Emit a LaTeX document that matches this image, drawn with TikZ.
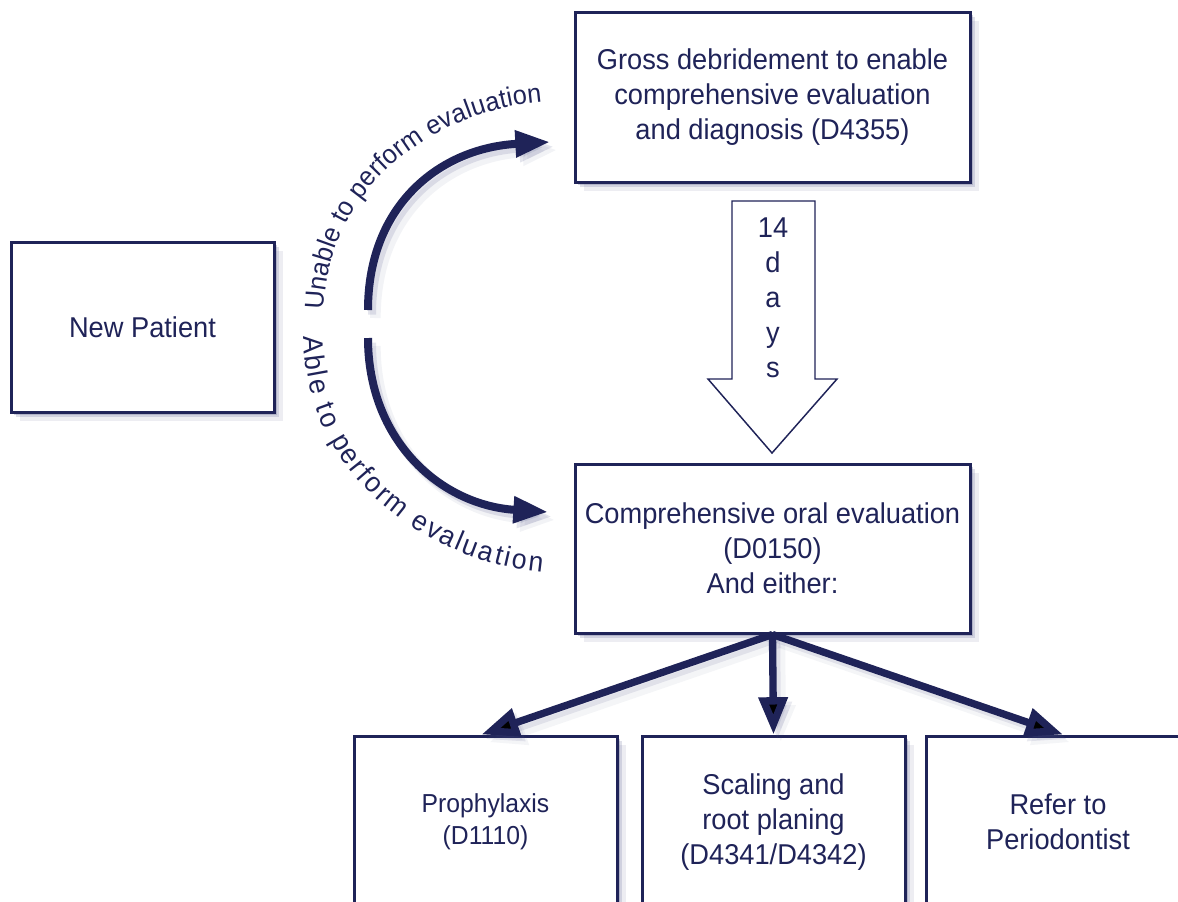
\documentclass[tikz,border=0pt]{standalone}
\usepackage{fontspec}
\setmainfont{Liberation Sans}[FakeStretch=0.95]
\usetikzlibrary{arrows.meta,decorations.text,shadows,calc}
\definecolor{navy}{RGB}{31,35,88}
\definecolor{shade}{RGB}{80,85,135}
\newcommand\mainsz{\fontsize{21.5}{26.25}\selectfont}
\newcommand\smallsz{\fontsize{19.5}{24}\selectfont}
\newcommand\lblfont{\fontsize{20}{24}\selectfont}
\newcommand\lblfontb{\fontsize{21}{24}\selectfont}
\begin{document}
\begin{tikzpicture}[x=0.75pt,y=-0.75pt,
  box/.style={draw=navy, line width=2.25pt, fill=white, inner sep=0pt, align=center,
    text=navy, font=\mainsz,
    general shadow={shadow xshift=2pt,shadow yshift=-2pt,fill=shade,opacity=0.25},
    general shadow={shadow xshift=4pt,shadow yshift=-4pt,fill=shade,opacity=0.18},
    general shadow={shadow xshift=6.5pt,shadow yshift=-6.5pt,fill=shade,opacity=0.1}},
  curvearrow/.style={draw=navy, line width=6pt, -{Triangle[length=26pt,width=19pt]}},
  forkarrow/.style={draw=navy, line width=5.5pt, -{Triangle[length=28pt,width=21pt]}},
  curveshadow/.style={curvearrow, draw=shade, opacity=0.15},
  forkshadow/.style={forkarrow, draw=shade, opacity=0.12},
  bigarrowshape/.style={draw=navy, line width=1.1pt, fill=white, line join=miter},
  lbl/.style 2 args={decorate, decoration={text along path, text align={fit to path}, text color=navy,
    text={|#1|#2}}}
]
\useasboundingbox (0,0) rectangle (1178,901);
\clip (0,0) rectangle (1178,901);
\fill[white] (0,0) rectangle (1178,901);

% boxes
\node[box, minimum width=197.25pt, minimum height=127.5pt] (np) at (142.5,327) {New Patient};
\node[box, minimum width=296.25pt, minimum height=127.5pt] (gross) at (772.5,97)
  {Gross debridement to enable\\comprehensive evaluation\\and diagnosis (D4355)};
\node[box, minimum width=296.25pt, minimum height=126.75pt] (comp) at (772.5,548.5)
  {Comprehensive oral evaluation\\(D0150)\\And either:};
\node[box, font=\smallsz, minimum width=197.25pt, minimum height=129pt] (pro) at (485.5,822)
  {Prophylaxis\\(D1110)};
\node[box, minimum width=197.25pt, minimum height=129pt] (srp) at (773.5,822)
  {Scaling and\\root planing\\(D4341/D4342)};
\node[box, minimum width=198pt, minimum height=129pt] (ref) at (1058,822)
  {Refer to\\Periodontist};

% 14 days block arrow
\draw[bigarrowshape] (732,201) -- (815,201) -- (815,379) -- (837,379) -- (772,453)
  -- (708,379) -- (732,379) -- cycle;
\node[text=navy, font=\mainsz, align=center, inner sep=0pt] (days) at (773,298)
  {14\\d\\a\\y\\s};

% curved arrows
\coordinate (us) at (368,310);
\coordinate (ue) at (550,142);
\coordinate (ls) at (368,338);
\coordinate (le) at (548,512);
\begin{scope}[transform canvas={xshift=3pt,yshift=-3.5pt}]
  \draw[curveshadow] (us) .. controls (368,205) and (440,148) .. (ue);
  \draw[curveshadow] (ls) .. controls (368,440) and (440,505) .. (le);
  \draw[forkshadow] (comp.south) -- ($(pro.north)+(-4,0)$);
  \draw[forkshadow] (comp.south) -- (srp.north);
  \draw[forkshadow] (comp.south) -- ($(ref.north)+(5,0)$);
\end{scope}
\begin{scope}[transform canvas={xshift=5.5pt,yshift=-6pt}]
  \draw[curveshadow, opacity=0.07, line width=8pt] (us) .. controls (368,205) and (440,148) .. (ue);
  \draw[curveshadow, opacity=0.07, line width=8pt] (ls) .. controls (368,440) and (440,505) .. (le);
  \draw[forkshadow, opacity=0.06, line width=8pt] (comp.south) -- ($(pro.north)+(-4,0)$);
  \draw[forkshadow, opacity=0.06, line width=8pt] (comp.south) -- (srp.north);
  \draw[forkshadow, opacity=0.06, line width=8pt] (comp.south) -- ($(ref.north)+(5,0)$);
\end{scope}
\draw[curvearrow] (us) .. controls (368,205) and (440,148) .. (ue);
\draw[curvearrow] (ls) .. controls (368,440) and (440,505) .. (le);

% labels along the curves
\path[lbl={\lblfont}{Unable to perform evaluation}] (324,310) .. controls (326,195) and (425,112) .. (542,102);
\path[lbl={\lblfontb}{Able to perform evaluation}] (304,336) .. controls (304,470) and (420,560) .. (542,572);

% fork arrows
\draw[forkarrow] (comp.south) -- ($(pro.north)+(-4,0)$);
\draw[forkarrow] (comp.south) -- (srp.north);
\draw[forkarrow] (comp.south) -- ($(ref.north)+(5,0)$);
\end{tikzpicture}
\end{document}
